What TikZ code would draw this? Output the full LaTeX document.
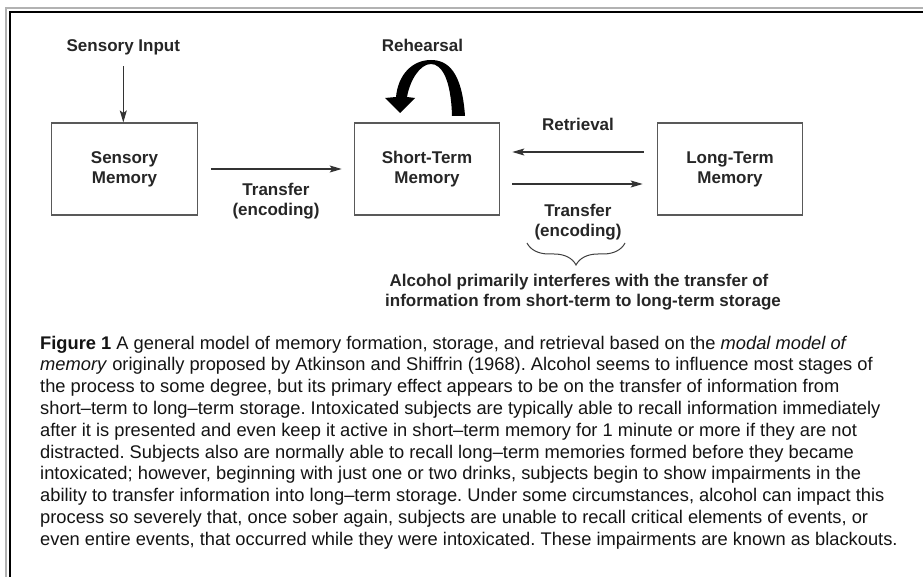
\documentclass[tikz,border=0pt]{standalone}
\usepackage{fontspec}
\setmainfont{Liberation Sans}
\usetikzlibrary{arrows.meta,decorations.pathreplacing}
\frenchspacing
\begin{document}
\begin{tikzpicture}[x=1pt,y=-1pt,
  lbl/.style={inner sep=0pt, text=black!85, font=\fontsize{17}{20}\selectfont\bfseries},
  box/.style={draw=black!65, line width=1.1pt, minimum width=145.5pt, minimum height=92pt, inner sep=0pt, align=center, text=black!85, font=\fontsize{17}{20}\selectfont\bfseries},
  arr/.style={draw=black!80, line width=1.2pt, -{Stealth[length=12pt,width=7pt,inset=2.5pt]}},
  captxt/.style={anchor=base west, inner sep=0pt, font=\fontsize{18.3}{22}\selectfont, text=black!92}
]
\useasboundingbox (0,0) rectangle (923,577);
\fill[white] (0,0) rectangle (923,577);
% frame
\draw[black!30, line width=1.2pt] (6,577) -- (6,8) -- (923,8);
\draw[black, line width=1.3pt] (10,577) -- (10,12) -- (923,12);

% boxes
\node[box] (sm) at (124.5,169) {Sensory\\Memory};
\node[box] (stm) at (427,169) {Short-Term\\Memory};
\node[box] (ltm) at (730,169) {Long-Term\\Memory};

% labels
\node[lbl, anchor=base] (si) at (123.3,51.5) {Sensory Input};
\node[lbl, anchor=base] (rh) at (422.5,51.5) {Rehearsal};
\node[lbl, anchor=base] (t1a) at (276,196) {Transfer};
\node[lbl, anchor=base] (t1b) at (276,216) {(encoding)};
\node[lbl, anchor=base] (rt) at (578,130.7) {Retrieval};
\node[lbl, anchor=base] (t2a) at (578,216.7) {Transfer};
\node[lbl, anchor=base] (t2b) at (578,237) {(encoding)};
\node[lbl, anchor=base] (al1) at (579,286.7) {Alcohol primarily interferes with the transfer of};
\node[lbl, anchor=base] (al2) at (583,306.7) {information from short-term to long-term storage};

% connectors
\draw[arr, shorten <=11pt] (si.south) -- (si.south |- sm.north);
\draw[arr, shorten <=13pt, shorten >=12pt] (sm.east) -- (stm.west);
\draw[arr, shorten <=13pt, shorten >=12pt] ([yshift=17pt]ltm.west) -- ([yshift=17pt]stm.east);
\draw[arr, shorten <=12pt, shorten >=14pt] ([yshift=-15pt]stm.east) -- ([yshift=-15pt]ltm.west);

% rehearsal arrow
\fill[black] (465,116) .. controls (462,72) and (448,60) .. (431,60)
  .. controls (412,60) and (398,75) .. (396,97) -- (385,98) -- (400,113) -- (415,98) -- (407,97)
  .. controls (410,80) and (420,64) .. (431,64)
  .. controls (442,64) and (451,80) .. (452,116) -- cycle;

% brace
\coordinate (bl) at (527,243);
\coordinate (br) at (625,243);
\draw[black!75, line width=1pt, decorate, decoration={brace, mirror, amplitude=22pt}] (bl) -- (br);

% caption
\node[captxt] (c1) at (40,349) {\textbf{Figure 1} A general model of memory formation, storage, and retrieval based on the \textit{modal model of}};
\node[captxt] (c2) at (40,370.8) {\textit{memory} originally proposed by Atkinson and Shiffrin (1968). Alcohol seems to influence most stages of};
\node[captxt] (c3) at (40,392.6) {the process to some degree, but its primary effect appears to be on the transfer of information from};
\node[captxt] (c4) at (40,414.4) {short–term to long–term storage. Intoxicated subjects are typically able to recall information immediately};
\node[captxt] (c5) at (40,436.2) {after it is presented and even keep it active in short–term memory for 1 minute or more if they are not};
\node[captxt] (c6) at (40,458) {distracted. Subjects also are normally able to recall long–term memories formed before they became};
\node[captxt] (c7) at (40,479.8) {intoxicated; however, beginning with just one or two drinks, subjects begin to show impairments in the};
\node[captxt] (c8) at (40,501.6) {ability to transfer information into long–term storage. Under some circumstances, alcohol can impact this};
\node[captxt] (c9) at (40,523.4) {process so severely that, once sober again, subjects are unable to recall critical elements of events, or};
\node[captxt] (c10) at (40,545.2) {even entire events, that occurred while they were intoxicated. These impairments are known as blackouts.};
\end{tikzpicture}
\end{document}
